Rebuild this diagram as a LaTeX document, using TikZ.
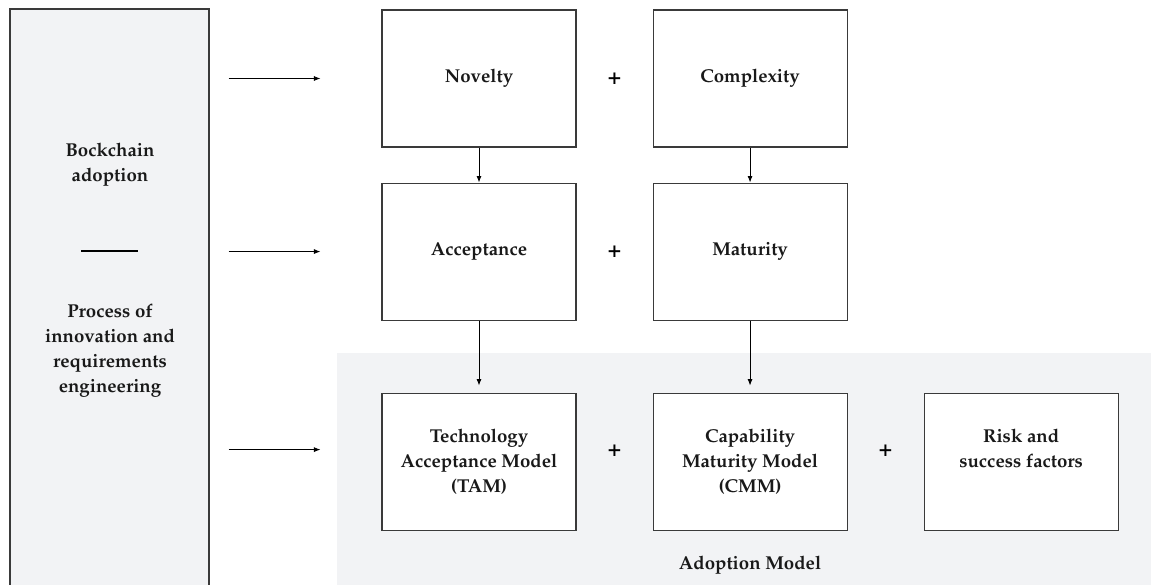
\documentclass[tikz,border=0pt]{standalone}
\usepackage[T1]{fontenc}
\usepackage{mathpazo}
\usetikzlibrary{positioning,calc,arrows.meta}
\definecolor{panelgrey}{HTML}{F2F3F5}
\definecolor{edgegrey}{HTML}{3A3A3A}

\begin{document}
\begin{tikzpicture}[
    font=\fontsize{10.6}{14.2}\selectfont\bfseries,
    every node/.style={align=center, text=black!90},
    box/.style={
        draw=edgegrey,
        line width=0.6pt,
        fill=white,
        minimum width=3.88cm,
        minimum height=2.74cm
    },
    plus/.style={font=\fontsize{13}{13}\selectfont\bfseries, text=black},
    arrow/.style={-{Latex[length=1.3mm,width=1mm]}, line width=0.5pt}
]
\useasboundingbox (0,0) rectangle (23.02,-11.7);

% Background panels
\fill[panelgrey] (6.74,-7.06) rectangle (23.02,-11.7);
\node[draw=edgegrey, fill=panelgrey, line width=0.6pt, minimum width=3.98cm,
      minimum height=11.9cm, inner sep=0pt] (proc) at (2.19,-6.13) {};

% Left column
\node (bca) at (2.2,-3.29) {Bockchain\\adoption};
\draw[line width=0.6pt] (1.62,-5.02) -- (2.76,-5.02);
\node (pir) at (2.2,-7.01) {Process of\\innovation and\\requirements\\engineering};

% Boxes
\node[box] (nov) at (9.58,-1.57) {Novelty};
\node[box] (cpx) [right=1.52cm of nov] {Complexity};
\node[box] (acc) [below=0.7cm of nov] {Acceptance};
\node[box] (mat) [below=0.7cm of cpx] {Maturity};
\node[box] (tam) [below=1.44cm of acc] {Technology\\Acceptance Model\\(TAM)};
\node[box] (cmm) [below=1.44cm of mat] {Capability\\Maturity Model\\(CMM)};
\node[box] (rsf) [right=1.52cm of cmm] {Risk and\\success factors\\\vphantom{(TAM)}};
\node (adm) at ([yshift=-0.7cm]cmm.south) {Adoption Model};

% Plus signs
\node[plus] (p1) at ($(nov)!0.5!(cpx)$) {+};
\node[plus] (p2) at ($(acc)!0.5!(mat)$) {+};
\node[plus] (p3) at ([yshift=0.21cm]$(tam)!0.5!(cmm)$) {+};
\node[plus] (p4) at ([yshift=0.21cm]$(cmm)!0.5!(rsf)$) {+};

% Arrows
\draw[arrow] ([xshift=0.38cm]proc.east |- nov.west) -- ([xshift=-1.22cm]nov.west);
\draw[arrow] ([xshift=0.38cm]proc.east |- acc.west) -- ([xshift=-1.22cm]acc.west);
\draw[arrow] ([xshift=0.38cm,yshift=0.24cm]proc.east |- tam.west) -- ([xshift=-1.22cm,yshift=0.24cm]tam.west);
\draw[arrow] (nov) -- (acc);
\draw[arrow] (cpx) -- (mat);
\draw[arrow] (acc) -- ([yshift=0.14cm]tam.north);
\draw[arrow] (mat) -- ([yshift=0.14cm]cmm.north);

\end{tikzpicture}
\end{document}
